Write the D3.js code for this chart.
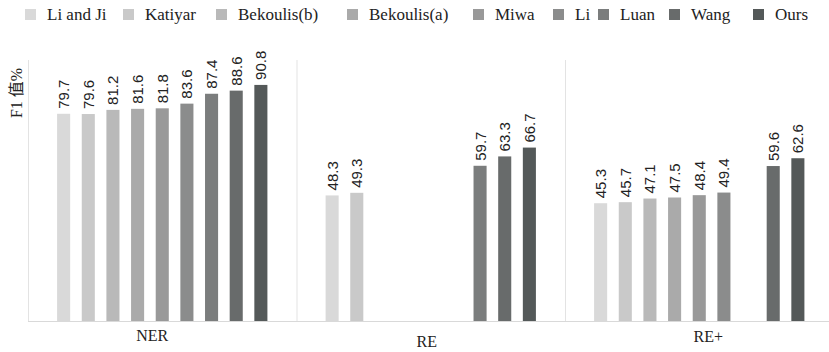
<!DOCTYPE html>
<html>
<head>
<meta charset="utf-8">
<script src="https://cdn.jsdelivr.net/npm/d3@7"></script>
<style>
  html, body { margin: 0; padding: 0; background: #ffffff; }
  svg { display: block; }
  .serif { font-family: "Liberation Serif", "DejaVu Serif", "Times New Roman", serif; }
  .serifcjk { font-family: "Liberation Serif", "DejaVu Serif", "Noto Sans CJK SC", serif; }
  .sans { font-family: "Liberation Sans", "DejaVu Sans", Arial, sans-serif; }
</style>
</head>
<body>
<svg id="chart" width="829" height="352"></svg>
<script>
// ---- data ----
const categories = ["NER", "RE", "RE+"];
const seriesNames = ["Li and Ji", "Katiyar", "Bekoulis(b)", "Bekoulis(a)", "Miwa", "Li", "Luan", "Wang", "Ours"];
const seriesColors = ["#d9d9d9", "#c9c9c9", "#b9b9b9", "#aaaaaa", "#999999", "#8b8c8c", "#7b7d7d", "#686b6b", "#545959"];
// values per series, in order NER, RE, RE+ (null = not reported)
const liAndJi    = [79.7, 48.3, 45.3];
const katiyar    = [79.6, 49.3, 45.7];
const bekoulisB  = [81.2, null, 47.1];
const bekoulisA  = [81.6, null, 47.5];
const miwa       = [81.8, null, 48.4];
const li         = [83.6, null, 49.4];
const luan       = [87.4, 59.7, null];
const wang       = [88.6, 63.3, 59.6];
const ours       = [90.8, 66.7, 62.6];
const seriesValues = [liAndJi, katiyar, bekoulisB, bekoulisA, miwa, li, luan, wang, ours];
const yLabel = "F1 值%";

// ---- layout ----
const W = 829, H = 352;
const plotLeft = 28, plotBottom = 321, plotTop = 60;
const groupWidth = 268.5;
const legendX = [25, 123, 216, 347, 473, 553, 598, 669, 753];
const catLabelDx = [-10, -4, 9];
const catLabelY = [341, 347, 342];

const svg = d3.select("#chart");

const x0 = d3.scaleBand()
  .domain(categories)
  .range([plotLeft, plotLeft + groupWidth * categories.length])
  .paddingInner(0).paddingOuter(0);

const x1 = d3.scaleBand()
  .domain(seriesNames)
  .range([0, groupWidth])
  .paddingInner(0.47)
  .paddingOuter(1.18);

const y = d3.scaleLinear().domain([0, 100]).range([plotBottom, plotTop + 1]);

// frame lines
const grid = svg.append("g");
categories.forEach(c => {
  grid.append("line")
    .attr("x1", x0(c) + 0.5).attr("x2", x0(c) + 0.5)
    .attr("y1", plotTop).attr("y2", plotBottom)
    .attr("stroke", "#e3e3e3").attr("stroke-width", 1);
});
grid.append("line")
  .attr("x1", plotLeft).attr("x2", W)
  .attr("y1", plotBottom + 0.5).attr("y2", plotBottom + 0.5)
  .attr("stroke", "#d9d9d9").attr("stroke-width", 1);

// bars
const records = [];
seriesNames.forEach((s, si) => {
  categories.forEach((c, ci) => {
    const v = seriesValues[si][ci];
    if (v !== null) records.push({ s, si, c, v });
  });
});

const bars = svg.append("g");
bars.selectAll("rect")
  .data(records)
  .join("rect")
  .attr("x", d => x0(d.c) + x1(d.s))
  .attr("y", d => y(d.v))
  .attr("width", x1.bandwidth())
  .attr("height", d => plotBottom - y(d.v))
  .attr("fill", d => seriesColors[d.si]);

// value labels
bars.selectAll("text")
  .data(records)
  .join("text")
  .attr("class", "sans")
  .attr("transform", d => `translate(${x0(d.c) + x1(d.s) + x1.bandwidth() / 2 + 5.5},${y(d.v) - 5}) rotate(-90)`)
  .attr("text-anchor", "start")
  .attr("font-size", 15)
  .attr("fill", "#222")
  .text(d => d.v.toFixed(1));

// category labels
svg.append("g").selectAll("text")
  .data(categories)
  .join("text")
  .attr("class", "serif")
  .attr("x", (d, i) => x0(d) + groupWidth / 2 + catLabelDx[i])
  .attr("y", (d, i) => catLabelY[i])
  .attr("text-anchor", "middle")
  .attr("font-size", 16)
  .attr("fill", "#222")
  .text(d => d);

// y label
svg.append("text")
  .attr("class", "serifcjk")
  .attr("transform", `translate(22,93) rotate(-90)`)
  .attr("text-anchor", "middle")
  .attr("font-size", 16)
  .attr("fill", "#222")
  .text(yLabel);

// legend
const legend = svg.append("g").selectAll("g")
  .data(seriesNames)
  .join("g")
  .attr("transform", (d, i) => `translate(${legendX[i]},0)`);
legend.append("rect")
  .attr("x", 0).attr("y", 9)
  .attr("width", 11).attr("height", 11)
  .attr("fill", (d, i) => seriesColors[i]);
legend.append("text")
  .attr("class", "serif")
  .attr("x", 22).attr("y", 20)
  .attr("font-size", 17)
  .attr("fill", "#222")
  .text(d => d);
</script>
</body>
</html>
